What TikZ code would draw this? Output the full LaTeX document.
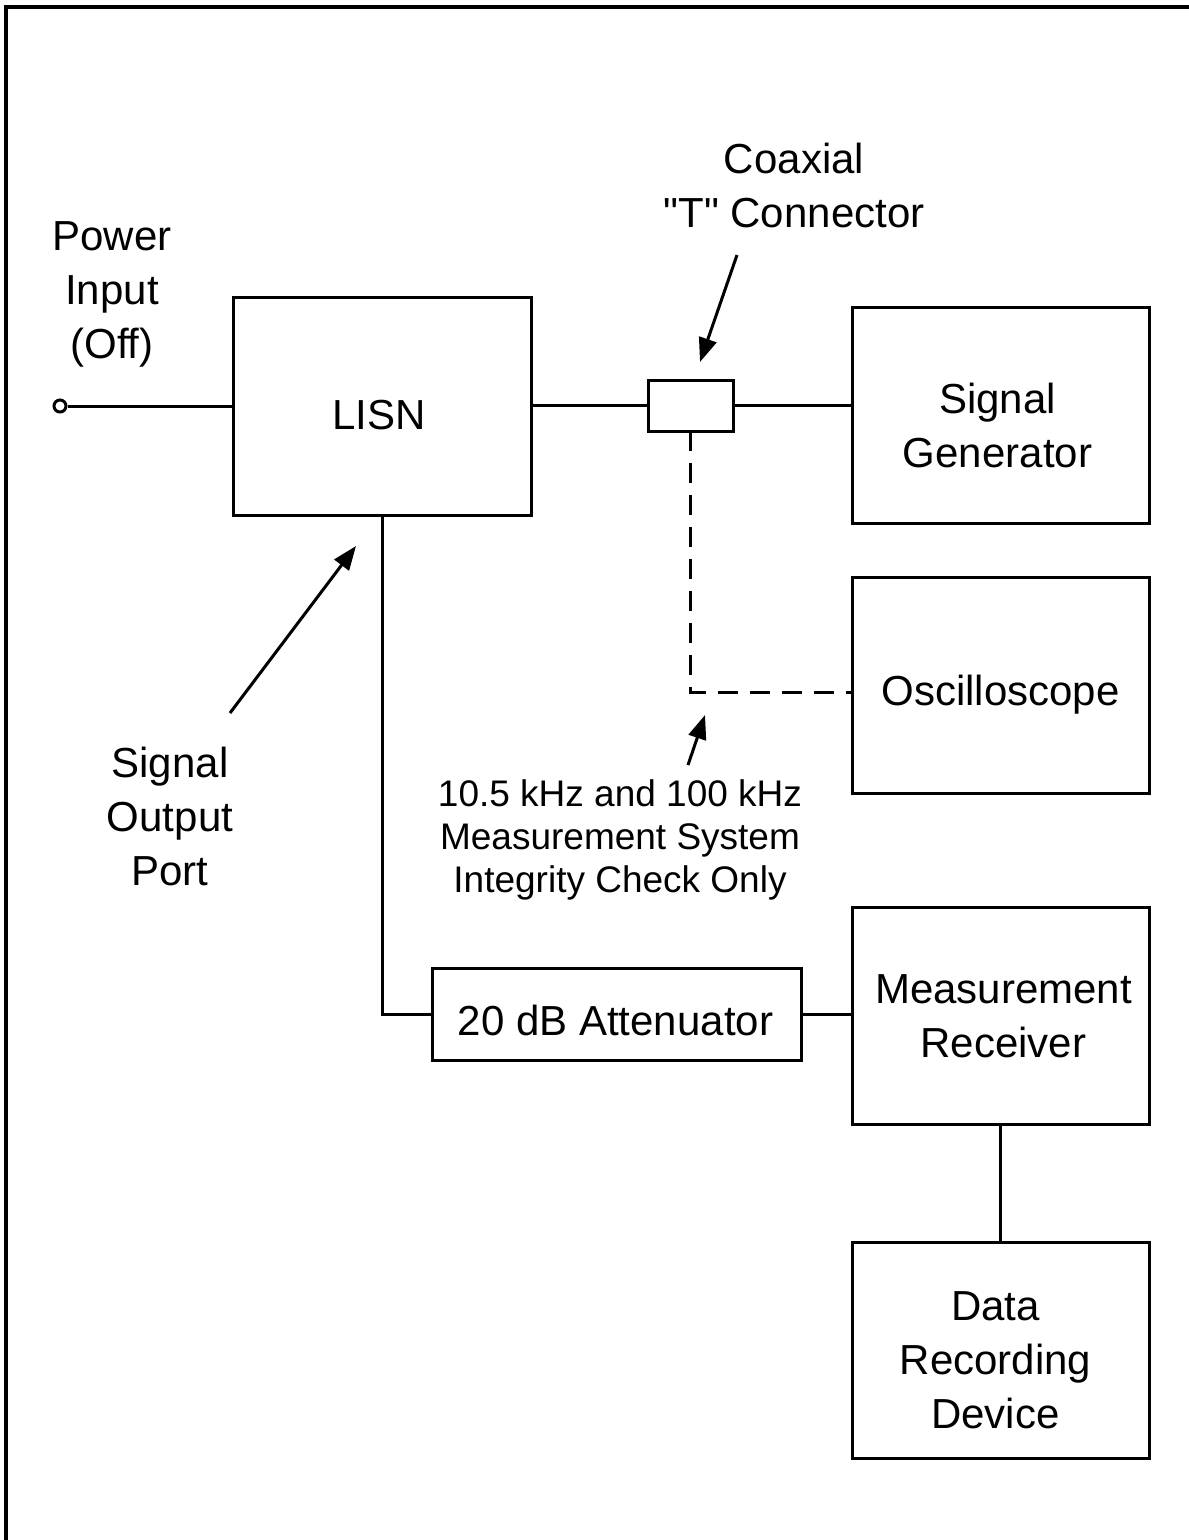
\documentclass[tikz,border=0pt]{standalone}
\usepackage{fontspec}
\setmainfont{Liberation Sans}
\newfontfamily\plainqfont{Liberation Sans}
\usetikzlibrary{arrows.meta,calc}
\begin{document}
\begin{tikzpicture}[x=1pt,y=-1pt,
  box/.style={draw, rectangle, inner sep=0pt, outer sep=0pt, line width=3pt},
  lbl/.style={font=\fontsize{42}{54}\selectfont, align=center, inner sep=0pt},
  small/.style={font=\fontsize{37}{43}\selectfont, align=center, inner sep=0pt},
  wire/.style={line width=3pt},
  dwire/.style={line width=3pt, dash pattern=on 20pt off 12pt},
  ptr/.style={line width=3pt, -{Triangle[length=24pt,width=18pt]}}]
\useasboundingbox (0,0) rectangle (1189,1540);
% frame (top and left edges only)
\draw[line width=3.5pt] (1189,7) -- (6,7) -- (6,1540);

% boxes
\node[box, minimum width=298pt, minimum height=218pt,
  label={[lbl,yshift=-9pt,xshift=-3pt]center:LISN}] (lisn) at (382,406) {};
\node[box, minimum width=85pt, minimum height=51pt] (tcon) at (690.5,405.5) {};
\node[box, minimum width=297pt, minimum height=216pt,
  label={[lbl,yshift=-10pt,xshift=-3pt]center:{Signal\\Generator}}] (sig) at (1000.5,415) {};
\node[box, minimum width=297pt, minimum height=216pt,
  label={[lbl,yshift=-10pt]center:Oscilloscope}] (osc) at (1000.5,685) {};
\node[box, minimum width=297pt, minimum height=217pt,
  label={[lbl,yshift=-1pt,xshift=3pt]center:{Measurement\\Receiver}}] (rec) at (1000.5,1015.5) {};
\node[box, minimum width=297pt, minimum height=216pt,
  label={[lbl,yshift=-10pt,xshift=-5pt]center:{Data\\Recording\\Device}}] (data) at (1000.5,1350) {};
\node[box, minimum width=369pt, minimum height=92pt,
  label={[lbl,yshift=-6pt,xshift=-1pt]center:20 dB Attenuator}] (att) at (616.5,1014) {};

% power input terminal
\node[circle, draw, line width=3pt, minimum size=12pt, inner sep=0pt] (pin) at (60,406) {};

% free texts
\node[lbl] (ptxt) at (112,294) {Power\\Input\\(Off)};
\node[lbl] (ctxt) at (794,185) {Coaxial\\{\plainqfont"T"} Connector};
\node[lbl] (stxt) at (170,816) {Signal\\Output\\Port};
\node[small] (itxt) at (620,840) {10.5 kHz and 100 kHz\\Measurement System\\Integrity Check Only};

% connectors
\draw[wire] (pin.east) -- (pin.east -| lisn.west);
\draw[wire] (lisn.east |- tcon.west) -- (tcon.west);
\draw[wire] (tcon.east) -- (tcon.east -| sig.west);
\draw[wire] (lisn.south) |- (att.west);
\draw[wire] (att.east) -- (att.east -| rec.west);
\draw[wire] (rec.south) -- (data.north);
\coordinate (dcorner) at (tcon.south |- 0,692);
\draw[dwire] (tcon.south) -- (dcorner) -- (dcorner -| osc.west);

% pointer arrows
\coordinate (ca0) at (737,255);
\coordinate (ca1) at (700,362);
\draw[ptr] (ca0) -- (ca1);
\coordinate (sa0) at (230,713);
\coordinate (sa1) at (356,546);
\draw[ptr] (sa0) -- (sa1);
\coordinate (ia0) at (688,765);
\coordinate (ia1) at (705,715);
\draw[ptr] (ia0) -- (ia1);
\end{tikzpicture}
\end{document}
